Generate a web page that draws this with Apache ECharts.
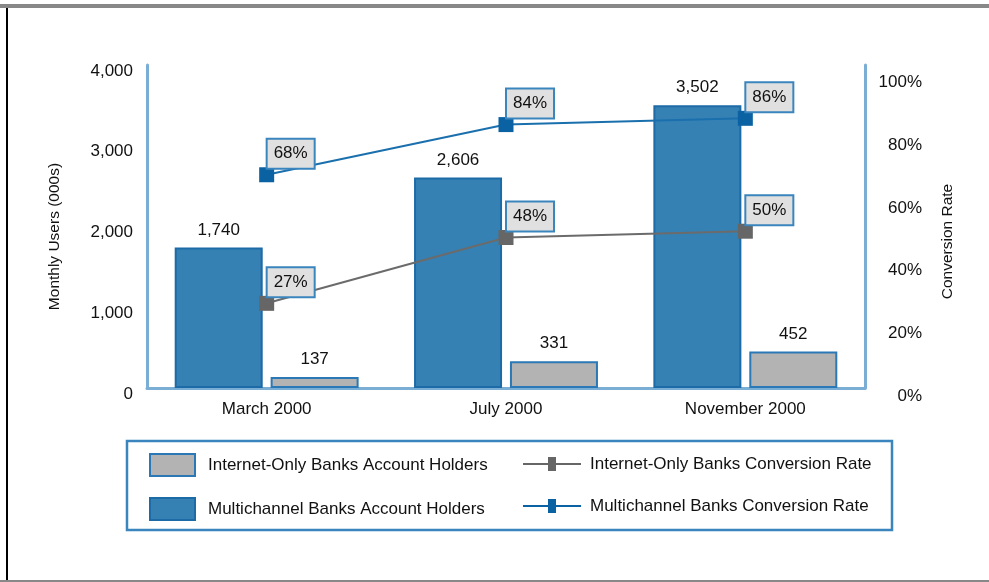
<!DOCTYPE html>
<html>
<head>
<meta charset="utf-8">
<script src="https://cdn.jsdelivr.net/npm/echarts@6/dist/echarts.min.js"></script>
<style>
html,body{margin:0;padding:0;background:#fff;}
#chart{width:989px;height:582px;}
</style>
</head>
<body>
<div id="chart"></div>
<script>
var categories = ['March 2000', 'July 2000', 'November 2000'];
var multichannelHolders = [1740, 2606, 3502];
var internetOnlyHolders = [137, 331, 452];
var internetOnlyRate = [27, 48, 50];
var multichannelRate = [68, 84, 86];
var leftTicks = [0, 1000, 2000, 3000, 4000];
var rightTicks = [0, 20, 40, 60, 80, 100];

var FONT = '"Liberation Sans", Arial, Helvetica, sans-serif';
var TXT = '#111';
var AXIS_BLUE = '#7aaed4';
var BOX_BLUE = '#3a85bd';
var LINE_ICON = 'path://M0,6L25,6L25,0L33,0L33,6L58,6L58,8L33,8L33,14L25,14L25,8L0,8Z';

var chart = echarts.init(document.getElementById('chart'));

function fmtThousands(v) {
  return String(v).replace(/\B(?=(\d{3})+(?!\d))/g, ',');
}

var lineLabel = {
  show: true,
  position: 'inside',
  offset: [24, -21],
  formatter: '{c}%',
  fontFamily: FONT,
  fontSize: 17,
  color: TXT,
  backgroundColor: '#e0e0e0',
  borderColor: BOX_BLUE,
  borderWidth: 2,
  padding: [6, 6, 5, 6]
};

var option = {
  backgroundColor: '#fff',
  animation: false,
  textStyle: { fontFamily: FONT },
  grid: { left: 147, right: 124, top: 65, bottom: 194, containLabel: false },
  legend: [
    {
      orient: 'vertical',
      left: 149, top: 453, padding: 0,
      itemWidth: 45, itemHeight: 22, itemGap: 20,
      icon: 'rect',
      data: ['Internet-Only Banks Account Holders', 'Multichannel Banks Account Holders'],
      textStyle: { fontFamily: FONT, fontSize: 17, color: TXT, lineHeight: 22, padding: [0, 0, 0, 8] }
    },
    {
      orient: 'vertical',
      left: 523, top: 453, padding: 0,
      itemWidth: 58, itemHeight: 14, itemGap: 20,
      icon: LINE_ICON,
      data: ['Internet-Only Banks Conversion Rate', 'Multichannel Banks Conversion Rate'],
      textStyle: { fontFamily: FONT, fontSize: 17, color: TXT, lineHeight: 22, padding: [0, 0, 0, 4] }
    }
  ],
  xAxis: {
    type: 'category',
    data: categories,
    axisLine: { show: true, lineStyle: { color: AXIS_BLUE, width: 3 } },
    axisTick: { show: false },
    axisLabel: { margin: 13, fontFamily: FONT, fontSize: 17, color: TXT },
    splitLine: { show: false }
  },
  yAxis: [
    {
      type: 'value',
      min: leftTicks[0], max: leftTicks[leftTicks.length - 1], interval: 1000,
      name: 'Monthly Users (000s)',
      nameLocation: 'middle', nameRotate: 90, nameGap: 84,
      nameTextStyle: { fontFamily: FONT, fontSize: 15.5, color: TXT, padding: [0, 20, 0, 0] },
      axisLine: { show: true, lineStyle: { color: AXIS_BLUE, width: 3 } },
      axisTick: { show: false },
      splitLine: { show: false },
      axisLabel: {
        margin: 14, fontFamily: FONT, fontSize: 17, color: TXT,
        verticalAlign: 'top', lineHeight: 12,
        formatter: function (v) { return fmtThousands(v); }
      }
    },
    {
      type: 'value',
      position: 'right',
      min: 0, max: 103, interval: 20,
      name: 'Conversion Rate',
      nameLocation: 'middle', nameRotate: 90, nameGap: 75,
      nameTextStyle: { fontFamily: FONT, fontSize: 15.5, color: TXT, padding: [0, 30, 0, 0] },
      axisLine: { show: true, lineStyle: { color: AXIS_BLUE, width: 3 } },
      axisTick: { show: false },
      splitLine: { show: false },
      axisLabel: {
        margin: 57, align: 'right', fontFamily: FONT, fontSize: 17, color: TXT,
        verticalAlign: 'top', lineHeight: 16,
        formatter: function (v) { return rightTicks.indexOf(v) >= 0 ? v + '%' : ''; }
      }
    }
  ],
  series: [
    {
      name: 'Multichannel Banks Account Holders',
      type: 'bar',
      yAxisIndex: 0,
      data: multichannelHolders,
      barWidth: 88,
      barGap: '9%',
      itemStyle: { color: '#3681b4', borderColor: '#1c6aa6', borderWidth: 2 },
      label: {
        show: true, position: 'top', distance: 9,
        fontFamily: FONT, fontSize: 17, color: TXT,
        formatter: function (p) { return fmtThousands(p.value); }
      }
    },
    {
      name: 'Internet-Only Banks Account Holders',
      type: 'bar',
      yAxisIndex: 0,
      data: internetOnlyHolders,
      barWidth: 88,
      itemStyle: { color: '#b3b3b3', borderColor: '#2a78b5', borderWidth: 2 },
      label: {
        show: true, position: 'top', distance: 9,
        fontFamily: FONT, fontSize: 17, color: TXT,
        formatter: function (p) { return fmtThousands(p.value); }
      }
    },
    {
      name: 'Internet-Only Banks Conversion Rate',
      type: 'line',
      yAxisIndex: 1,
      data: internetOnlyRate,
      symbol: 'rect', symbolSize: 15,
      lineStyle: { color: '#6b6b6b', width: 2 },
      itemStyle: { color: '#666666' },
      label: lineLabel,
      z: 5
    },
    {
      name: 'Multichannel Banks Conversion Rate',
      type: 'line',
      yAxisIndex: 1,
      data: multichannelRate,
      symbol: 'rect', symbolSize: 15,
      lineStyle: { color: '#1a6fad', width: 2 },
      itemStyle: { color: '#0a62a3' },
      label: lineLabel,
      z: 5
    }
  ],
  graphic: [
    { type: 'rect', shape: { x: 0, y: 4, width: 989, height: 4 }, style: { fill: '#888888' }, silent: true },
    { type: 'rect', shape: { x: 6, y: 8, width: 2, height: 574 }, style: { fill: '#000000' }, silent: true },
    { type: 'rect', shape: { x: 0, y: 580, width: 989, height: 2 }, style: { fill: '#888888' }, silent: true },
    { type: 'rect', shape: { x: 127, y: 441, width: 765, height: 89 }, style: { fill: 'none', stroke: BOX_BLUE, lineWidth: 2.5 }, silent: true }
  ]
};

chart.setOption(option);
</script>
</body>
</html>
